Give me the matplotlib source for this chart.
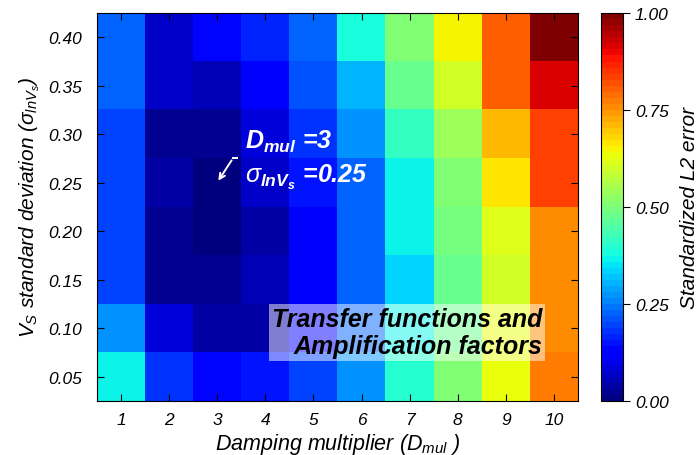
import matplotlib
matplotlib.use('Agg')
import matplotlib.pyplot as plt
import numpy as np

plt.rcParams['font.family'] = 'Liberation Sans'
plt.rcParams['font.style'] = 'italic'
plt.rcParams['mathtext.fontset'] = 'custom'
plt.rcParams['mathtext.rm'] = 'Liberation Sans:italic'
plt.rcParams['mathtext.it'] = 'Liberation Sans:italic'
plt.rcParams['mathtext.bf'] = 'Liberation Sans:bold:italic'

# damping multiplier (columns) and sigma lnVs (rows)
d_mul = [1, 2, 3, 4, 5, 6, 7, 8, 9, 10]
sigma = [0.05, 0.10, 0.15, 0.20, 0.25, 0.30, 0.35, 0.40]

# standardized L2 error, rows from sigma=0.05 up to 0.40
err_005 = [0.37, 0.18, 0.14, 0.15, 0.19, 0.28, 0.40, 0.51, 0.64, 0.78]
err_010 = [0.27, 0.09, 0.04, 0.04, 0.12, 0.22, 0.37, 0.48, 0.63, 0.76]
err_015 = [0.20, 0.03, 0.02, 0.05, 0.12, 0.22, 0.33, 0.47, 0.60, 0.76]
err_020 = [0.20, 0.03, 0.01, 0.04, 0.12, 0.22, 0.36, 0.49, 0.62, 0.76]
err_025 = [0.19, 0.04, 0.00, 0.07, 0.15, 0.23, 0.36, 0.51, 0.66, 0.84]
err_030 = [0.20, 0.03, 0.02, 0.09, 0.18, 0.27, 0.41, 0.54, 0.71, 0.84]
err_035 = [0.22, 0.07, 0.06, 0.12, 0.21, 0.30, 0.47, 0.60, 0.81, 0.92]
err_040 = [0.22, 0.07, 0.14, 0.16, 0.22, 0.38, 0.50, 0.65, 0.81, 1.00]

Z = np.array([err_005, err_010, err_015, err_020, err_025, err_030, err_035, err_040])

fig = plt.figure(figsize=(6.99, 4.56), dpi=100)
ax = fig.add_axes([0.1388, 0.1184, 0.6881, 0.8509])
cax = fig.add_axes([0.8598, 0.1184, 0.0315, 0.8509])

cmap = plt.get_cmap('jet', 64)
im = ax.imshow(Z, origin='lower', cmap=cmap, vmin=0, vmax=1, aspect='auto',
               interpolation='nearest',
               extent=[d_mul[0] - 0.5, d_mul[-1] + 0.5, sigma[0] - 0.025, sigma[-1] + 0.025])

ax.set_xticks(d_mul)
ax.set_xticklabels([str(d) for d in d_mul])
ax.set_yticks(sigma)
ax.set_yticklabels(['%.2f' % s for s in sigma])
ax.tick_params(direction='in', top=True, right=True, length=5, labelsize=12.5)
ax.tick_params(axis='x', pad=8)
ax.tick_params(axis='y', pad=11)
ax.set_xlabel(r'Damping multiplier ($D_{mul}$ )', fontsize=15.5, labelpad=3)
ax.set_ylabel(r'$V_S$ standard deviation ($\sigma_{lnV_s}$)', fontsize=15, labelpad=4)

cb = fig.colorbar(im, cax=cax, ticks=[0, 0.25, 0.5, 0.75, 1.0])
cb.ax.set_yticklabels(['0.00', '0.25', '0.50', '0.75', '1.00'])
cb.ax.tick_params(labelsize=12.5, length=5)
cb.set_label('Standardized L2 error', fontsize=15, labelpad=8)

# annotation of the best cell
ax.text(3.58, 0.2865, r'$\mathbf{D_{mul}}$ =3', color='white', fontsize=18,
        fontweight='bold')
ax.text(3.58, 0.2505, r'$\sigma_{\mathbf{lnV_s}}$ =0.25', color='white', fontsize=18,
        fontweight='bold')
ax.annotate('', xy=(2.99, 0.2497), xytext=(3.33, 0.2755),
            arrowprops=dict(arrowstyle='->', color='white', lw=1.4))
ax.plot([3.33, 3.42], [0.2755, 0.2755], color='white', lw=1.4)

ax.text(9.75, 0.0745, 'Transfer functions and\nAmplification factors',
        ha='right', va='baseline', multialignment='right', fontsize=18,
        fontweight='bold', color='black', linespacing=1.15,
        bbox=dict(facecolor='white', alpha=0.5, edgecolor='none', pad=2))

fig.savefig('out.png', dpi=100)
